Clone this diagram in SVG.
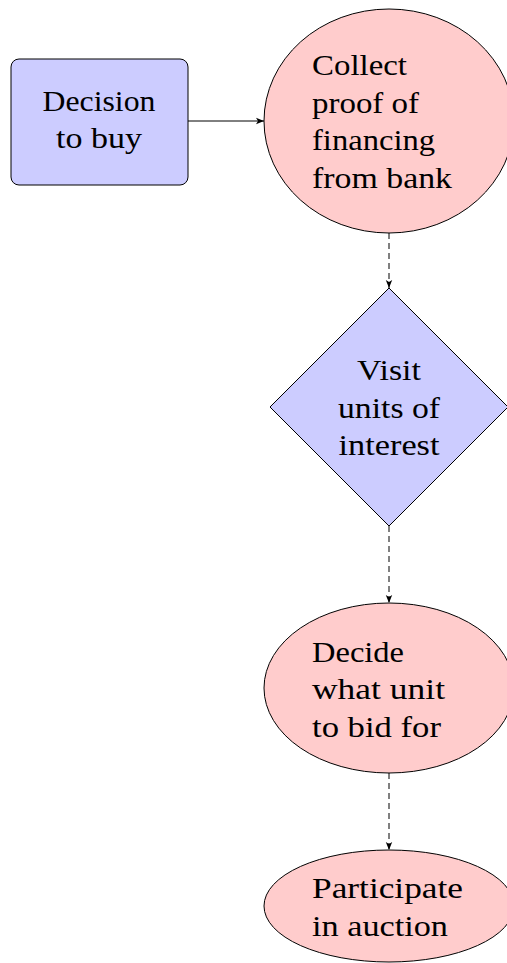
<svg xmlns="http://www.w3.org/2000/svg" width="507" height="963" viewBox="0 0 507 963">
<style>
.t{font-family:'Liberation Serif','Times New Roman',Times,serif;font-size:29px;fill:#000}
.b{fill:#ccccff;stroke:#000;stroke-width:1}
.r{fill:#ffcccc;stroke:#000;stroke-width:1}
.c{stroke:#000;stroke-width:1;fill:none}
.d{stroke-dasharray:6,4}
</style>
<defs>
<marker id="ah" viewBox="0 0 10 10" refX="10" refY="5" markerWidth="8" markerHeight="8" markerUnits="userSpaceOnUse" orient="auto">
<path d="M0,1 L10,5 L0,9 L2.5,5 Z" fill="#000"/>
</marker>
</defs>
<rect width="507" height="963" fill="#fff"/>
<g id="decision">
<rect class="b" x="11" y="59" width="177" height="126" rx="8"/>
<text class="t" x="99" y="111" text-anchor="middle" textLength="113" lengthAdjust="spacingAndGlyphs">Decision</text>
<text class="t" x="99" y="148" text-anchor="middle" textLength="86" lengthAdjust="spacingAndGlyphs">to buy</text>
</g>
<g id="collect">
<ellipse class="r" cx="389" cy="121" rx="125" ry="112"/>
<text class="t" x="312" y="75" textLength="95" lengthAdjust="spacingAndGlyphs">Collect</text>
<text class="t" x="312" y="113" textLength="107" lengthAdjust="spacingAndGlyphs">proof of</text>
<text class="t" x="312" y="150" textLength="123" lengthAdjust="spacingAndGlyphs">financing</text>
<text class="t" x="312" y="188" textLength="140" lengthAdjust="spacingAndGlyphs">from bank</text>
</g>
<g id="visit">
<polygon class="b" points="389,288 508,407 389,526 270,407"/>
<text class="t" x="389" y="380" text-anchor="middle" textLength="64" lengthAdjust="spacingAndGlyphs">Visit</text>
<text class="t" x="389" y="418" text-anchor="middle" textLength="102" lengthAdjust="spacingAndGlyphs">units of</text>
<text class="t" x="389" y="455" text-anchor="middle" textLength="101" lengthAdjust="spacingAndGlyphs">interest</text>
</g>
<g id="decide">
<ellipse class="r" cx="389" cy="688" rx="125" ry="85"/>
<text class="t" x="312" y="662" textLength="92" lengthAdjust="spacingAndGlyphs">Decide</text>
<text class="t" x="312" y="699" textLength="133" lengthAdjust="spacingAndGlyphs">what unit</text>
<text class="t" x="312" y="737" textLength="129" lengthAdjust="spacingAndGlyphs">to bid for</text>
</g>
<g id="participate">
<ellipse class="r" cx="389" cy="906" rx="125" ry="56"/>
<text class="t" x="312" y="898" textLength="151" lengthAdjust="spacingAndGlyphs">Participate</text>
<text class="t" x="312" y="936" textLength="136" lengthAdjust="spacingAndGlyphs">in auction</text>
</g>
<g id="connectors">
<line class="c" x1="188" y1="121" x2="264" y2="121" marker-end="url(#ah)"/>
<line class="c d" x1="389" y1="233" x2="389" y2="288" marker-end="url(#ah)"/>
<line class="c d" x1="389" y1="526" x2="389" y2="603" marker-end="url(#ah)"/>
<line class="c d" x1="389" y1="773" x2="389" y2="850" marker-end="url(#ah)"/>
</g>
</svg>
